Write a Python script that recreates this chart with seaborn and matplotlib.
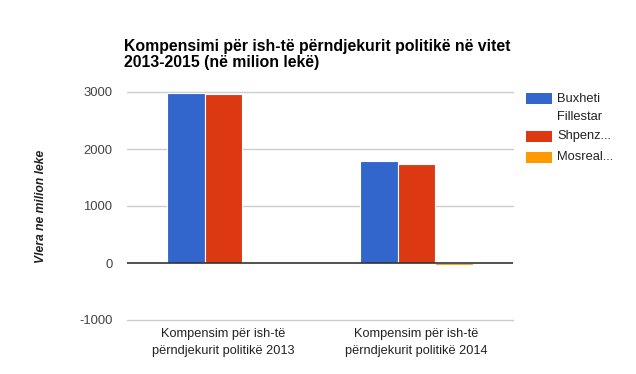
import matplotlib
matplotlib.use("Agg")
import matplotlib.pyplot as plt
import seaborn as sns
import pandas as pd
from matplotlib.patches import Rectangle

categories = ["Kompensim për ish-të\npërndjekurit politikë 2013",
              "Kompensim për ish-të\npërndjekurit politikë 2014"]
series_names = ["Buxheti\nFillestar", "Shpenz...", "Mosreal..."]
buxheti = [2990, 1790]
shpenzime = [2965, 1740]
mosrealizim = [0, -40]
colors = ["#3366cc", "#dc3912", "#ff9900"]
yticks = [-1000, 0, 1000, 2000, 3000]
title_lines = ["Kompensimi për ish-të përndjekurit politikë në vitet",
               "2013-2015 (në milion lekë)"]
ylabel = "Vlera ne milion leke"

rows = []
for name, vals in zip(series_names, [buxheti, shpenzime, mosrealizim]):
    for c, v in zip(categories, vals):
        rows.append({"cat": c, "series": name, "val": v})
df = pd.DataFrame(rows)

sns.set_theme(style="white")
plt.rcParams['font.family'] = ['Liberation Sans', 'DejaVu Sans']

W, H = 636, 374
fig = plt.figure(figsize=(6.36, 3.74), dpi=100)
ax = fig.add_axes([127/W, 1-320/H, (513-127)/W, (320-92)/H])
sns.barplot(data=df, x="cat", y="val", hue="series", order=categories,
            hue_order=series_names, palette=colors, width=0.59,
            saturation=1, ax=ax, legend=False, errorbar=None,
            edgecolor="white", linewidth=0.8, zorder=2)
ax.set_ylim(-1000, 3000)
ax.set_xlim(-0.5, 1.5)
ax.set_yticks(yticks)
ax.set_yticklabels([str(t) for t in yticks])
for t in yticks:
    if t != 0:
        ax.axhline(t, color="#cccccc", lw=1, zorder=0, clip_on=False)
ax.axhline(0, color="#333333", lw=1.2, zorder=3)
for s in ax.spines.values():
    s.set_visible(False)
ax.tick_params(axis="y", length=0, pad=10.5, labelsize=9.4, labelcolor="#444444")
ax.tick_params(axis="x", length=0, pad=6, labelsize=9.2, labelcolor="#222222")
for lab in ax.get_xticklabels():
    lab.set_linespacing(1.5)
ax.set_xlabel("")
ax.set_ylabel(ylabel, fontsize=8.75, fontweight="bold",
              fontstyle="italic", color="#222222")
ax.yaxis.set_label_coords((47.5-127)/(513-127), 0.5)

fig.text(124/W, 1-51/H, title_lines[0], fontsize=11.4, fontweight="bold",
         ha="left", va="baseline", color="#000000")
fig.text(124/W, 1-67/H, title_lines[1], fontsize=11.4, fontweight="bold",
         ha="left", va="baseline", color="#000000")

# legend drawn manually (handle aligned to the first line of each label)
leg_tops = [93, 131, 152]
for c, name, top in zip(colors, series_names, leg_tops):
    fig.patches.append(Rectangle((526/W, 1-(top+11)/H), 26/W, 11/H,
                                 transform=fig.transFigure, facecolor=c,
                                 edgecolor="none"))
    for i, line in enumerate(name.split("\n")):
        fig.text(557/W, 1-(top+5.5+i*18)/H, line, fontsize=9.3,
                 ha="left", va="center", color="#222222")

fig.savefig("out.png", dpi=100, facecolor="white")
